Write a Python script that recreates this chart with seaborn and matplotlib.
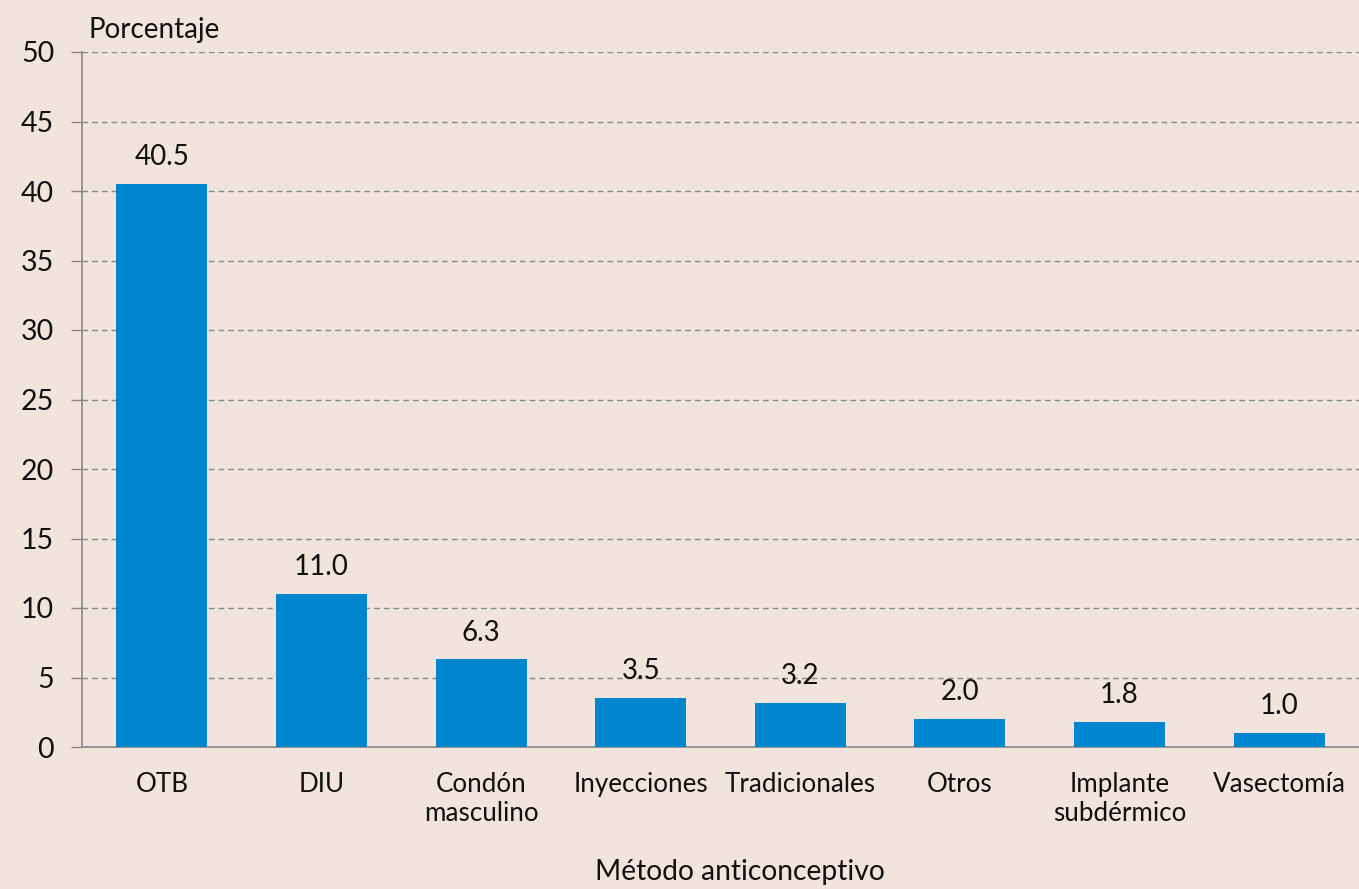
import matplotlib
matplotlib.use("Agg")
import matplotlib.pyplot as plt
import seaborn as sns
import pandas as pd

metodos = ["OTB", "DIU", "Condón\nmasculino", "Inyecciones", "Tradicionales",
           "Otros", "Implante\nsubdérmico", "Vasectomía"]
porcentajes = [40.5, 11.0, 6.3, 3.5, 3.2, 2.0, 1.8, 1.0]
yticks = [0, 5, 10, 15, 20, 25, 30, 35, 40, 45, 50]

bg = "#F0E4DC"
bar_color = "#0086CE"
axis_gray = "#888888"
text_color = "#111111"

sns.set_theme(style="white")
plt.rcParams["font.family"] = ["Lato", "DejaVu Sans"]

df = pd.DataFrame({"metodo": metodos, "pct": porcentajes})

fig = plt.figure(figsize=(13.59, 8.89), dpi=100, facecolor=bg)
ax = fig.add_axes([82 / 1359, 1 - 747 / 889, 1 - 82 / 1359, (747 - 52) / 889])
ax.set_facecolor(bg)

sns.barplot(data=df, x="metodo", y="pct", color=bar_color, saturation=1,
            width=0.57, linewidth=0, edgecolor="none", ax=ax, zorder=3)

ax.set_xlim(-0.5, len(metodos) - 0.5)
ax.set_ylim(0, 50)
ax.set_yticks(yticks)
ax.set_yticklabels([str(t) for t in yticks], fontsize=20.5, color=text_color)
ax.yaxis.grid(True, linestyle=(0, (4, 3)), color=axis_gray, linewidth=1, zorder=0)
ax.xaxis.grid(False)

for s in ["top", "right"]:
    ax.spines[s].set_visible(False)
for s in ["left", "bottom"]:
    ax.spines[s].set_color(axis_gray)
    ax.spines[s].set_linewidth(1.2)

ax.tick_params(axis="y", which="both", left=True, length=8, width=1, color=axis_gray, pad=12)
ax.tick_params(axis="x", which="both", bottom=False, pad=12)
for lbl in ax.get_xticklabels():
    lbl.set_fontsize(18.7)
    lbl.set_color(text_color)
    lbl.set_linespacing(1.2)
    lbl.set_verticalalignment("top")

for i, v in enumerate(porcentajes):
    ax.annotate(f"{v:.1f}", (i, v), xytext=(0, 10), textcoords="offset points",
                ha="center", va="bottom", fontsize=20, color=text_color)

ax.set_xlabel("")
ax.set_ylabel("")
fig.text(88 / 1359, 1 - 30 / 889, "Porcentaje", fontsize=20, color=text_color,
         ha="left", va="center")
fig.text(740 / 1359, 1 - 872 / 889, "Método anticonceptivo", fontsize=20.3,
         color=text_color, ha="center", va="center")

fig.savefig("out.png", dpi=100, facecolor=bg)
